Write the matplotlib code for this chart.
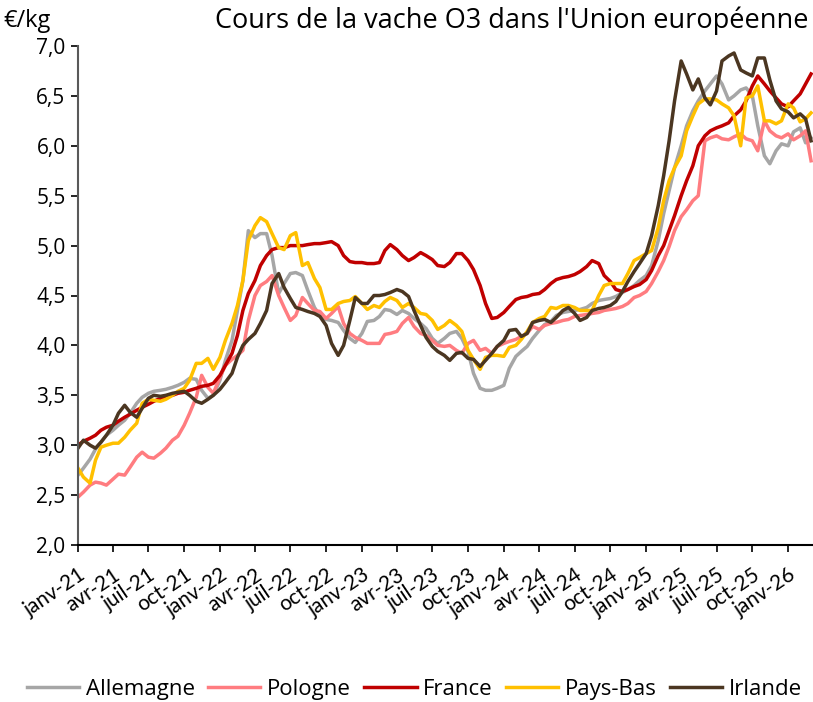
import pandas as pd
import matplotlib
matplotlib.use("Agg")
import matplotlib.pyplot as plt

# semi-monthly points, 1st and 15th of each month, janv-21 -> mars-26
dates = pd.date_range("2021-01-01", "2026-03-01", freq="SMS")

allemagne = [
    2.70, 2.77, 2.86, 2.96, 3.03, 3.10, 3.15, 3.20, 3.25, 3.32,
    3.42, 3.48, 3.52, 3.54, 3.55, 3.56, 3.58, 3.60, 3.63, 3.67,
    3.66, 3.55, 3.47, 3.50, 3.65, 3.85, 4.05, 4.35, 4.65, 5.15,
    5.08, 5.12, 5.12, 4.90, 4.52, 4.62, 4.72, 4.73, 4.70, 4.55,
    4.38, 4.30, 4.26, 4.25, 4.23, 4.15, 4.07, 4.03, 4.12, 4.24,
    4.25, 4.29, 4.36, 4.35, 4.31, 4.35, 4.32, 4.27, 4.22, 4.17,
    4.07, 4.02, 4.07, 4.12, 4.14, 4.07, 3.94, 3.72, 3.57, 3.55,
    3.55, 3.57, 3.60, 3.77, 3.89, 3.94, 3.99, 4.07, 4.15, 4.21,
    4.24, 4.30, 4.33, 4.34, 4.35, 4.36, 4.38, 4.42, 4.45, 4.46,
    4.47, 4.49, 4.53, 4.56, 4.60, 4.65, 4.70, 4.80, 5.05, 5.32,
    5.55, 5.78, 6.00, 6.20, 6.35, 6.45, 6.55, 6.62, 6.70, 6.62,
    6.46, 6.50, 6.56, 6.58, 6.50, 6.20, 5.90, 5.82, 5.95, 6.02,
    6.00, 6.14, 6.18, 6.03, 6.08,
]
pologne = [
    2.48, 2.53, 2.60, 2.63, 2.62, 2.60, 2.66, 2.71, 2.70, 2.78,
    2.88, 2.93, 2.88, 2.87, 2.92, 2.97, 3.05, 3.09, 3.20, 3.32,
    3.48, 3.70, 3.58, 3.52, 3.68, 3.80, 3.86, 3.90, 3.95, 4.25,
    4.50, 4.60, 4.64, 4.70, 4.50, 4.38, 4.25, 4.30, 4.48, 4.42,
    4.35, 4.34, 4.27, 4.32, 4.39, 4.22, 4.12, 4.08, 4.05, 4.02,
    4.02, 4.02, 4.11, 4.12, 4.14, 4.22, 4.28, 4.19, 4.12, 4.10,
    4.05, 4.00, 3.99, 4.00, 3.95, 3.92, 4.02, 4.05, 3.95, 3.97,
    3.92, 3.99, 4.02, 4.04, 4.06, 4.09, 4.12, 4.19, 4.16, 4.20,
    4.22, 4.23, 4.25, 4.26, 4.29, 4.30, 4.31, 4.32, 4.33, 4.35,
    4.36, 4.37, 4.39, 4.42, 4.48, 4.50, 4.54, 4.62, 4.74, 4.85,
    4.99, 5.15, 5.29, 5.36, 5.45, 5.50, 6.05, 6.08, 6.10, 6.07,
    6.06, 6.09, 6.12, 6.07, 6.05, 5.95, 6.25, 6.15, 6.10, 6.08,
    6.12, 6.06, 6.10, 6.15, 5.85,
]
france = [
    3.00, 3.04, 3.07, 3.10, 3.15, 3.18, 3.20, 3.24, 3.28, 3.31,
    3.35, 3.38, 3.41, 3.44, 3.47, 3.49, 3.50, 3.52, 3.53, 3.55,
    3.57, 3.59, 3.60, 3.62, 3.70, 3.80, 3.92, 4.10, 4.35, 4.52,
    4.65, 4.80, 4.90, 4.96, 4.98, 4.98, 5.00, 5.00, 5.00, 5.01,
    5.02, 5.02, 5.03, 5.04, 5.00, 4.90, 4.84, 4.83, 4.83, 4.82,
    4.82, 4.83, 4.95, 5.01, 4.96, 4.90, 4.85, 4.88, 4.93, 4.90,
    4.86, 4.80, 4.79, 4.83, 4.92, 4.92, 4.85, 4.76, 4.60, 4.42,
    4.27, 4.28, 4.33, 4.39, 4.46, 4.48, 4.49, 4.51, 4.52, 4.56,
    4.62, 4.66, 4.68, 4.69, 4.71, 4.74, 4.79, 4.85, 4.82, 4.70,
    4.64, 4.56, 4.54, 4.56, 4.59, 4.61, 4.66, 4.75, 4.90, 5.00,
    5.15, 5.30, 5.50, 5.65, 5.80, 6.00, 6.10, 6.15, 6.18, 6.20,
    6.23, 6.30, 6.36, 6.45, 6.60, 6.70, 6.62, 6.55, 6.48, 6.42,
    6.39, 6.45, 6.52, 6.62, 6.72,
]
pays_bas = [
    2.77, 2.68, 2.62, 2.85, 2.98, 3.00, 3.02, 3.02, 3.08, 3.15,
    3.22, 3.42, 3.46, 3.45, 3.44, 3.46, 3.50, 3.54, 3.57, 3.65,
    3.82, 3.82, 3.87, 3.76, 3.88, 4.05, 4.22, 4.40, 4.65, 5.05,
    5.20, 5.28, 5.24, 5.12, 4.98, 4.96, 5.10, 5.13, 4.80, 4.83,
    4.67, 4.58, 4.36, 4.36, 4.42, 4.44, 4.45, 4.49, 4.42, 4.36,
    4.40, 4.38, 4.44, 4.48, 4.45, 4.38, 4.42, 4.38, 4.32, 4.31,
    4.25, 4.16, 4.20, 4.25, 4.20, 4.14, 3.95, 3.86, 3.76, 3.88,
    3.90, 3.90, 3.89, 3.98, 4.00, 4.06, 4.14, 4.23, 4.27, 4.29,
    4.38, 4.37, 4.40, 4.40, 4.38, 4.35, 4.35, 4.35, 4.50, 4.60,
    4.62, 4.62, 4.62, 4.72, 4.85, 4.88, 4.92, 4.95, 5.18, 5.45,
    5.65, 5.78, 5.90, 6.15, 6.30, 6.42, 6.47, 6.47, 6.46, 6.42,
    6.38, 6.30, 6.00, 6.48, 6.50, 6.60, 6.25, 6.25, 6.22, 6.25,
    6.42, 6.38, 6.24, 6.27, 6.33,
]
irlande = [
    2.97, 3.05, 3.00, 2.97, 3.03, 3.10, 3.20, 3.32, 3.40, 3.33,
    3.28, 3.37, 3.47, 3.50, 3.49, 3.50, 3.52, 3.53, 3.54, 3.50,
    3.44, 3.42, 3.46, 3.50, 3.56, 3.63, 3.72, 3.88, 4.00, 4.06,
    4.12, 4.22, 4.35, 4.62, 4.72, 4.58, 4.47, 4.38, 4.36, 4.34,
    4.32, 4.29, 4.20, 4.02, 3.90, 4.00, 4.25, 4.48, 4.42, 4.42,
    4.50, 4.50, 4.51, 4.53, 4.56, 4.54, 4.49, 4.35, 4.20, 4.08,
    3.99, 3.94, 3.90, 3.85, 3.92, 3.93, 3.87, 3.86, 3.79, 3.85,
    3.92, 3.99, 4.05, 4.15, 4.16, 4.09, 4.12, 4.23, 4.25, 4.26,
    4.23, 4.28, 4.35, 4.38, 4.32, 4.25, 4.28, 4.35, 4.37, 4.38,
    4.40, 4.44, 4.54, 4.64, 4.74, 4.82, 4.92, 5.10, 5.40, 5.70,
    6.05, 6.45, 6.85, 6.72, 6.56, 6.67, 6.48, 6.41, 6.55, 6.85,
    6.90, 6.93, 6.76, 6.73, 6.70, 6.88, 6.88, 6.66, 6.45, 6.37,
    6.34, 6.28, 6.32, 6.27, 6.05,
]

series = ["Allemagne", "Pologne", "France", "Pays-Bas", "Irlande"]
colors = ["#A6A6A6", "#FF7C80", "#C00000", "#FFC000", "#4B3621"]

tick_dates = pd.date_range("2021-01-01", "2026-01-01", freq="QS")
tick_labels = ["janv-21", "avr-21", "juil-21", "oct-21",
               "janv-22", "avr-22", "juil-22", "oct-22",
               "janv-23", "avr-23", "juil-23", "oct-23",
               "janv-24", "avr-24", "juil-24", "oct-24",
               "janv-25", "avr-25", "juil-25", "oct-25",
               "janv-26"]

plt.rcParams['font.family'] = ['Open Sans', 'DejaVu Sans']

fig = plt.figure(figsize=(8.13, 7.02), dpi=100)
ax = fig.add_axes([78/813, 157/702, 735/813, 499/702])

for name, vals, c in zip(series, [allemagne, pologne, france, pays_bas, irlande], colors):
    ax.plot(dates, vals, color=c, lw=2.5, label=name, solid_joinstyle='round')

ax.set_xlim(pd.Timestamp("2021-01-01"), pd.Timestamp("2026-03-06"))
ax.set_ylim(2, 7)
ax.set_yticks([2 + 0.5*i for i in range(11)])
ax.set_yticklabels([f"{2 + 0.5*i:.1f}".replace(".", ",") for i in range(11)], fontsize=15)
ax.set_xticks(tick_dates)
ax.set_xticklabels(tick_labels, rotation=34, ha='right', rotation_mode='anchor',
                   fontsize=15, family=['Lato', 'DejaVu Sans'])

ax.spines['top'].set_visible(False)
ax.spines['right'].set_visible(False)
ax.spines['left'].set_color('#595959')
ax.spines['left'].set_linewidth(1.5)
ax.spines['bottom'].set_color('#000000')
ax.spines['bottom'].set_linewidth(1.5)
ax.tick_params(axis='y', length=5, width=1.2, color='#000000', pad=4)
ax.tick_params(axis='x', length=5, width=1.2, color='#000000', pad=9)

fig.text(808/813, 1 - 21/702, "Cours de la vache O3 dans l'Union européenne",
         ha='right', va='center', fontsize=19.5)
fig.text(3/813, 1 - 21/702, "€/kg", ha='left', va='center', fontsize=17)

fig.legend(loc='center', bbox_to_anchor=(0.51, 0.018), ncol=5, frameon=False,
           fontsize=16, handlelength=2.35, handletextpad=0.3, columnspacing=0.6)

fig.savefig("out.png", dpi=100)
